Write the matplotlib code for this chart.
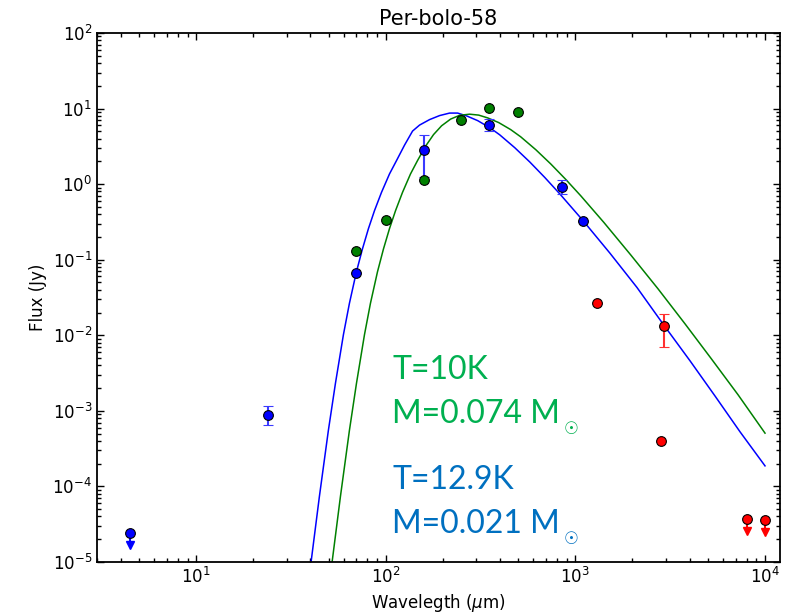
import matplotlib
matplotlib.use("Agg")
import matplotlib.pyplot as plt

# observed photometry (wavelength in micron, flux in Jy)
blue_wl = [24, 70, 160, 350, 850, 1100]
blue_flux = [8.85e-4, 0.067, 2.87, 6.1, 0.92, 0.33]
blue_err_lo = [2.35e-4, 0.0, 1.63, 1.1, 0.19, 0.0]
blue_err_hi = [2.75e-4, 0.0, 1.56, 1.1, 0.20, 0.0]
blue_lim_wl = [4.5]
blue_lim_flux = [2.4e-5]

green_wl = [70, 100, 160, 250, 350, 500]
green_flux = [0.129, 0.332, 1.12, 7.15, 10.2, 9.1]

red_wl = [1300, 2930, 2830]
red_flux = [0.0267, 0.0131, 4.05e-4]
red_err_lo = [0.0, 0.0061, 0.0]
red_err_hi = [0.0, 0.0060, 0.0]
red_lim_wl = [8000, 10000]
red_lim_flux = [3.72e-5, 3.6e-5]

# model curves (T=12.9 K blue, T=10 K green)
blue_model_wl = [40.36, 44.66, 49.8, 54.25, 59.78, 64.3, 70.0, 75.3, 81.0, 87.2,
                 94.9, 104.6, 113.9, 125.6, 138.4, 150.7, 170.2, 192.2, 217,
                 239.3, 266.9, 305.1, 353, 398.7, 478.6, 574.3, 689.2, 827.2,
                 1094, 1520, 2111, 2931, 4021, 5450, 7387, 10000]
blue_model_flux = [1e-5, 7.39e-5, 5.52e-4, 2.31e-3, 0.0102, 0.0265, 0.0692,
                   0.1386, 0.258, 0.447, 0.778, 1.365, 2.05, 3.29, 5.04, 6.05,
                   7.15, 8.08, 8.72, 8.72, 8.0, 6.93, 5.6, 4.5, 3.04, 1.968,
                   1.227, 0.744, 0.332, 0.1223, 0.0430, 0.01357, 4.60e-3,
                   1.571e-3, 5.27e-4, 1.87e-4]
green_model_wl = [52.1, 57.66, 64.3, 70.04, 77.2, 83.0, 90.4, 97.2, 104.6, 112.6,
                  122.5, 135.0, 147.0, 162.1, 178.6, 196.9, 219.7, 245.1, 276.8,
                  308.9, 344.6, 393.9, 455.7, 514.7, 617.9, 741.4, 889.8, 1068,
                  1412, 1962, 2725, 3784, 5191, 7211, 10000]
green_model_flux = [1e-5, 7.39e-5, 5.52e-4, 2.31e-3, 0.0102, 0.0265, 0.0692,
                    0.1386, 0.258, 0.447, 0.778, 1.365, 2.05, 3.18, 4.53, 5.92,
                    7.26, 8.15, 8.43, 8.2, 7.53, 6.53, 5.27, 4.23, 2.86, 1.85,
                    1.154, 0.700, 0.312, 0.115, 0.0413, 0.01419, 4.95e-3,
                    1.63e-3, 5.07e-4]

plt.rcParams["font.size"] = 12
plt.rcParams["xtick.direction"] = "in"
plt.rcParams["ytick.direction"] = "in"
plt.rcParams["axes.unicode_minus"] = False

fig = plt.figure(figsize=(8.02, 6.16), dpi=100)
ax = fig.add_axes([0.121, 0.0877, 0.8516, 0.8587])

ax.plot(blue_model_wl, blue_model_flux, color="b", lw=1.1, zorder=2)
ax.plot(green_model_wl, green_model_flux, color="g", lw=1.1, zorder=2)

mk = dict(marker="o", ms=7, mec="k", mew=0.8, ls="none", zorder=4)
ax.errorbar(blue_wl, blue_flux, yerr=[blue_err_lo, blue_err_hi], color="b",
            ecolor="#3a3aff", elinewidth=1.5, capsize=3.6, capthick=1.5, **mk)
ax.plot(green_wl, green_flux, color="g", **mk)
ax.errorbar(red_wl, red_flux, yerr=[red_err_lo, red_err_hi], color="r",
            ecolor="#ff3030", elinewidth=1.5, capsize=3.6, capthick=1.5, **mk)

# upper limits: marker with a short down arrow
for xs, ys, c in [(blue_lim_wl, blue_lim_flux, "b"), (red_lim_wl, red_lim_flux, "r")]:
    for x, y in zip(xs, ys):
        ax.plot([x, x], [y, y * 0.76], color=c, lw=1.5, zorder=3)
        ax.plot(x, y * 0.69, marker="v", color=c, ms=6, mec=c, zorder=3)
    ax.plot(xs, ys, color=c, **mk)

ax.set_xscale("log")
ax.set_yscale("log")
ax.set_xlim(3, 1.2e4)
ax.set_ylim(1e-5, 1e2)
ax.tick_params(which="both", top=True, right=True)
ax.tick_params(which="major", length=5, width=1)
ax.tick_params(which="minor", length=3, width=1)
for s in ax.spines.values():
    s.set_linewidth(1.3)

ax.set_title("Per-bolo-58", fontsize=15, pad=6)
ax.set_xlabel(r"Wavelegth ($\mu$m)", fontsize=12)
ax.set_ylabel("Flux (Jy)", fontsize=12)

# model labels, sun symbol as a small separate glyph after the mass
tkw = dict(transform=ax.transAxes, fontsize=23, family=["Lato", "DejaVu Sans"], va="baseline")
labels = [(0.346, "T=10K", "#00b050", False),
          (0.263, "M=0.074 M", "#00b050", True),
          (0.138, "T=12.9K", "#0070c0", False),
          (0.055, "M=0.021 M", "#0070c0", True)]
for yy, s, c, sun in labels:
    t = ax.text(0.432, yy, s, color=c, **tkw)
    if sun:
        ax.annotate("\u2609", xy=(1.0, 0.0), xycoords=t, xytext=(2.5, -6.5),
                    textcoords="offset points", fontsize=12, color=c,
                    family="DejaVu Sans", va="bottom", ha="left")

fig.savefig("out.png", dpi=100)
